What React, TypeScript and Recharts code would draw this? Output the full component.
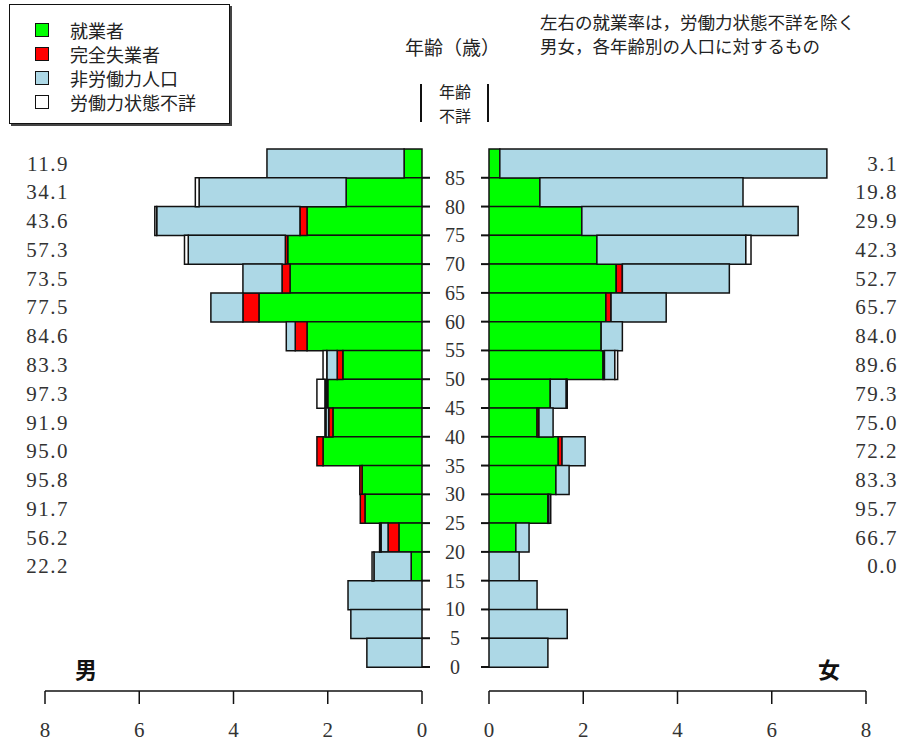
import React from 'react';
import { BarChart, Bar, XAxis, YAxis, LabelList } from 'recharts';

// age groups, top (85+) to bottom (0-4); label = lower bound of the group
const ages = ['85', '80', '75', '70', '65', '60', '55', '50', '45', '40', '35', '30', '25', '20', '15', '10', '5', '0'];

// male, population (reading from chart units)
const maleEmployed = [0.38, 1.61, 2.44, 2.85, 2.80, 3.46, 2.44, 1.68, 2.00, 1.89, 2.10, 1.27, 1.21, 0.49, 0.23, 0, 0, 0];
const maleUnemployed = [0, 0, 0.15, 0.05, 0.17, 0.34, 0.25, 0.12, 0.03, 0.09, 0.13, 0.05, 0.10, 0.23, 0, 0, 0, 0];
const maleNotInLabour = [2.91, 3.12, 3.04, 2.06, 0.83, 0.68, 0.19, 0.22, 0.03, 0.06, 0, 0, 0, 0.15, 0.79, 1.57, 1.51, 1.17];
const maleUnknown = [0, 0.08, 0.04, 0.08, 0, 0, 0, 0.08, 0.17, 0.02, 0, 0, 0, 0.03, 0.04, 0, 0, 0];
const maleRate = ['11.9', '34.1', '43.6', '57.3', '73.5', '77.5', '84.6', '83.3', '97.3', '91.9', '95.0', '95.8', '91.7', '56.2', '22.2', '', '', ''];

// female
const femaleEmployed = [0.23, 1.08, 1.97, 2.29, 2.70, 2.48, 2.38, 2.42, 1.30, 1.02, 1.47, 1.42, 1.25, 0.57, 0, 0, 0, 0];
const femaleUnemployed = [0, 0, 0, 0, 0.13, 0.11, 0, 0.03, 0, 0.04, 0.08, 0, 0.02, 0, 0, 0, 0, 0];
const femaleNotInLabour = [6.94, 4.31, 4.59, 3.16, 2.27, 1.17, 0.45, 0.22, 0.34, 0.30, 0.49, 0.28, 0.04, 0.28, 0.64, 1.02, 1.66, 1.25];
const femaleUnknown = [0, 0, 0, 0.11, 0, 0, 0, 0.06, 0.02, 0, 0, 0, 0, 0, 0, 0, 0, 0];
const femaleRate = ['3.1', '19.8', '29.9', '42.3', '52.7', '65.7', '84.0', '89.6', '79.3', '75.0', '72.2', '83.3', '95.7', '66.7', '0.0', '', '', ''];

const xTicks = [0, 2, 4, 6, 8];

const series = [
    { key: 'emp', name: '就業者', color: '#00ff00' },
    { key: 'unemp', name: '完全失業者', color: '#ff0000' },
    { key: 'nilf', name: '非労働力人口', color: '#add8e6' },
    { key: 'unk', name: '労働力状態不詳', color: '#ffffff' },
];

const maleData = ages.map((age, i) => ({
    age,
    emp: maleEmployed[i],
    unemp: maleUnemployed[i],
    nilf: maleNotInLabour[i],
    unk: maleUnknown[i],
    rate: maleRate[i],
}));

const femaleData = ages.map((age, i) => ({
    age,
    emp: femaleEmployed[i],
    unemp: femaleUnemployed[i],
    nilf: femaleNotInLabour[i],
    unk: femaleUnknown[i],
    rate: femaleRate[i],
}));

const SERIF = '"Liberation Serif", "Noto Sans CJK JP", serif';
const JP = '"Noto Sans CJK JP", "Noto Sans", sans-serif';

const H = 751;
const ROWS_TOP = 149;
const ROWS_BOTTOM = 667;
const AXIS_GAP = 24;
const BAND = (ROWS_BOTTOM - ROWS_TOP) / ages.length;

const LeftTick = (props: any) => {
    const yy = props.y + BAND / 2;
    return <line x1={props.x - 8} x2={props.x} y1={yy} y2={yy} stroke="#111" strokeWidth={2} />;
};

const RightTick = (props: any) => {
    const yy = props.y + BAND / 2;
    return (
        <g>
            <line x1={props.x} x2={props.x + 8} y1={yy} y2={yy} stroke="#111" strokeWidth={2} />
            <text x={props.x - 26} y={yy} textAnchor="middle" dominantBaseline="central"
                fontFamily={SERIF} fontSize={20} fill="#333">{props.payload.value}</text>
        </g>
    );
};

const rateLabel = (anchorX: number) => (p: any) => {
    const vb = p.viewBox || {};
    const y = (p.y ?? vb.y) + (p.height ?? vb.height) / 2;
    if (!p.value) return null;
    return (
        <text x={anchorX} y={y} textAnchor="end" dominantBaseline="central"
            fontFamily={SERIF} fontSize={21} letterSpacing={1.5} fill="#333">{p.value}</text>
    );
};

// labelKey: the segment that is never empty on the rows carrying a rate
const bars = (rateX: number, labelKey: string) =>
    series.map((s) => (
        <Bar key={s.key} dataKey={s.key} stackId="a" fill={s.color} stroke="#111" strokeWidth={1.5}
            isAnimationActive={false}>
            {s.key === labelKey && <LabelList dataKey="rate" content={rateLabel(rateX)} />}
        </Bar>
    ));

const xTickStyle = { fontFamily: SERIF, fontSize: 21, fill: '#333' };

export default function App() {
    return (
        <div style={styles.page}>
            {/* 男 */}
            <div style={{ position: 'absolute', left: 0, top: 0 }}>
                <BarChart width={440} height={H} data={maleData} layout="vertical" barCategoryGap={0}
                    margin={{ top: ROWS_TOP, right: 0, bottom: 0, left: 45 }}>
                    <XAxis type="number" domain={[0, 8]} ticks={xTicks} reversed height={60}
                        tickSize={13} tickMargin={18} stroke="#111" strokeWidth={1.5} tick={xTickStyle} />
                    <YAxis type="category" dataKey="age" orientation="right" width={18}
                        padding={{ top: 0, bottom: AXIS_GAP }} axisLine={false} tickLine={false}
                        tickSize={8} tickMargin={0} tick={LeftTick} interval={0} />
                    {bars(69, 'emp')}
                </BarChart>
            </div>
            {/* 女 */}
            <div style={{ position: 'absolute', left: 430, top: 0 }}>
                <BarChart width={481} height={H} data={femaleData} layout="vertical" barCategoryGap={0}
                    margin={{ top: ROWS_TOP, right: 45, bottom: 0, left: 0 }}>
                    <XAxis type="number" domain={[0, 8]} ticks={xTicks} height={60}
                        tickSize={13} tickMargin={18} stroke="#111" strokeWidth={1.5} tick={xTickStyle} />
                    <YAxis type="category" dataKey="age" orientation="left" width={59}
                        padding={{ top: 0, bottom: AXIS_GAP }} axisLine={false} tickLine={false}
                        tickSize={8} tickMargin={0} tick={RightTick} interval={0} />
                    {bars(468, 'nilf')}
                </BarChart>
            </div>

            <svg width={911} height={H} style={styles.overlay}>
                <text x={405} y={46} fontFamily={JP} fontSize={19} fill="#222" dominantBaseline="central">年齢（歳）</text>
                <text x={540} y={21} fontFamily={JP} fontSize={17.5} fill="#222" dominantBaseline="central">左右の就業率は，労働力状態不詳を除く</text>
                <text x={540} y={45} fontFamily={JP} fontSize={17.5} fill="#222" dominantBaseline="central">男女，各年齢別の人口に対するもの</text>
                <line x1={421} x2={421} y1={84} y2={122} stroke="#111" strokeWidth={2} />
                <line x1={488} x2={488} y1={84} y2={122} stroke="#111" strokeWidth={2} />
                <text x={455} y={91} textAnchor="middle" fontFamily={JP} fontSize={16} fill="#222" dominantBaseline="central">年齢</text>
                <text x={455} y={115} textAnchor="middle" fontFamily={JP} fontSize={16} fill="#222" dominantBaseline="central">不詳</text>
                <text x={86} y={668} textAnchor="middle" fontFamily={JP} fontSize={22} fontWeight="bold" fill="#111" dominantBaseline="central">男</text>
                <text x={829} y={668} textAnchor="middle" fontFamily={JP} fontSize={22} fontWeight="bold" fill="#111" dominantBaseline="central">女</text>
            </svg>

            <div style={styles.legend}>
                {series.map((s) => (
                    <div key={s.key} style={styles.legendRow}>
                        <span style={{ ...styles.swatch, background: s.color }} />
                        <span>{s.name}</span>
                    </div>
                ))}
            </div>
        </div>
    );
}

const styles = {
    page: { position: 'absolute' as const, left: 0, top: 0, width: 911, height: H, background: '#fff', overflow: 'hidden' },
    overlay: { position: 'absolute' as const, left: 0, top: 0, pointerEvents: 'none' as const },
    legend: {
        position: 'absolute' as const, left: 9, top: 4, width: 221, height: 120, boxSizing: 'border-box' as const,
        border: '1.5px solid #111', boxShadow: '2px 2px 0 #444', background: '#fff',
        paddingTop: 13, paddingLeft: 25, fontFamily: JP, fontSize: 18, lineHeight: '24px', color: '#222',
    },
    legendRow: { display: 'flex', alignItems: 'center', height: 24 },
    swatch: { display: 'inline-block', width: 12, height: 12, border: '1.5px solid #111', marginRight: 21 },
};
